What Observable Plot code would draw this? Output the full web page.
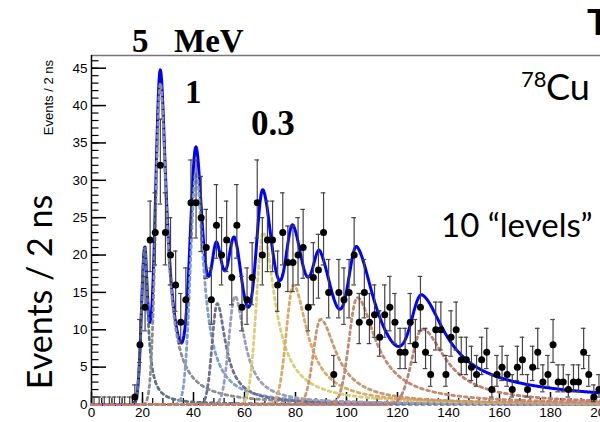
<!DOCTYPE html>
<html>
<head>
<meta charset="utf-8">
<script src="https://cdn.jsdelivr.net/npm/d3@7"></script>
<script src="https://cdn.jsdelivr.net/npm/@observablehq/plot@0.6"></script>
<style>
  html, body { margin: 0; padding: 0; background: #fff; overflow: hidden; width: 600px; height: 422px; }
  #chart { position: relative; width: 600px; height: 422px; overflow: hidden; }
  #chart svg { display: block; max-width: none !important; }
</style>
</head>
<body>
<div id="chart"></div>
<script>
// Time-of-flight spectrum: counts per 2 ns bin, bin centres in ns
const binCentres = d3.range(1, 200, 2);
const counts = [
  0, 0, 0, 0, 0, 0, 0, 0, 1, 8,
  13, 22, 23, 32, 23, 20, 16, 11, 14, 27,
  27, 25, 21, 14, 24, 20, 22, 17, 24, 13,
  14, 17, 27, 20, 22, 22, 16, 23, 19, 19,
  20, 21, 13, 17, 18, 23, 15, 4, 15, 14,
  15, 20, 11, 15, 11, 12, 9, 12, 13, 11,
  7, 7, 11, 8, 13, 7, 4, 10, 10, 4,
  9, 10, 6, 6, 5, 4, 6, 7, 2, 4,
  5, 4, 2, 5, 6, 2, 5, 7, 3, 4,
  8, 3, 3, 2, 3, 3, 7, 4, 1, 2
];

// Fit: ten resolved "levels" (peak time, peak height, rise width, tail width)
const levelTime  = [20.9, 27.0, 41.0, 49.3, 56.3, 67.3, 79.2, 89.8, 104.2, 129.7];
const levelAmp   = [21.0, 43.0, 31.0, 13.5, 14.5, 23.0, 16.0, 11.4, 14.3, 10.1];
const levelRise  = [1.3, 1.8, 2.2, 2.0, 2.4, 2.6, 2.8, 2.8, 3.2, 4.0];
const levelTail  = [1.2, 2.5, 3.0, 3.4, 3.8, 4.8, 5.6, 6.4, 7.4, 9.4];
const tailPower  = 0.75;
const levelColor = ["#5e7282", "#8a8f96", "#7f9fcf", "#6f6f8f", "#9c9cbc",
                    "#d9cf76", "#dba968", "#c9996e", "#c48a72", "#bd7f74"];

// Axis ticks
const xMajor = d3.range(0, 201, 20);
const xMinor = d3.range(0, 201, 4);
const yMajor = d3.range(0, 46, 5);
const yMinor = d3.range(0, 47, 1);
const yTop = 46.7;

// Asymmetric peak: Gaussian rise, slowly falling tail
function levelShape(i, t) {
  const d = t - levelTime[i];
  if (d < 0) return levelAmp[i] * Math.exp(-d * d / (2 * levelRise[i] ** 2));
  return levelAmp[i] * Math.pow(1 + (d / levelTail[i]) ** 2, -tailPower);
}

const bins = binCentres.map((t, i) => {
  const n = counts[i];
  const e = Math.sqrt(n + 0.25);
  return {t, n, lo: n > 0 ? n - e + 0.5 : 0, hi: n > 0 ? n + e + 0.5 : 1};
});

const tGrid = d3.range(0, 200.001, 0.25);
const components = levelTime.map((_, i) => tGrid.map(t => ({t, v: levelShape(i, t)})));
const total = tGrid.map(t => ({t, v: d3.sum(levelTime, (_, i) => levelShape(i, t))}));

const capHalf = 0.9;

const chart = Plot.plot({
  width: 620,
  height: 422,
  marginLeft: 91,
  marginRight: 19,
  marginTop: 55,
  marginBottom: 18,
  x: {domain: [0, 200]},
  y: {domain: [0, yTop]},
  style: {fontFamily: "'Liberation Sans', Arial, sans-serif", background: "#fff", overflow: "visible"},
  marks: [
    // frame and axes underneath the curves
    Plot.ruleY([yTop], {stroke: "#777", strokeWidth: 1.5}),
    Plot.ruleX([0], {stroke: "#000", strokeWidth: 1.5}),
    Plot.ruleY([0], {stroke: "#000", strokeWidth: 1.2}),
    Plot.axisY(yMinor, {anchor: "left", tickSize: -7.5, tickFormat: () => "", label: null, strokeWidth: 1.2}),
    Plot.axisY(yMajor, {anchor: "left", tickSize: -15, tickFormat: () => "", label: null, strokeWidth: 1.5}),
    Plot.axisY(yMajor, {anchor: "left", tickSize: 0, tickPadding: 4, label: null, fontSize: 13.5, fill: "#000"}),
    Plot.axisX(xMinor, {anchor: "bottom", tickSize: -6, tickFormat: () => "", label: null, strokeWidth: 1.2}),
    Plot.axisX(xMajor, {anchor: "bottom", tickSize: -12, tickFormat: () => "", label: null, strokeWidth: 1.5}),
    Plot.axisX(xMajor, {anchor: "bottom", tickSize: 0, tickPadding: 3, label: null, fontSize: 13.5, fill: "#000"}),
    // total fit and its ten components
    Plot.line(total, {x: "t", y: "v", stroke: "#0000ff", strokeWidth: 3}),
    ...components.map((c, i) => Plot.line(c, {
      x: "t", y: "v", stroke: levelColor[i], strokeWidth: 2.8, strokeDasharray: "2.8,3.6"
    })),
    // data with error bars
    Plot.ruleX(bins, {x: "t", y1: "lo", y2: "hi", stroke: "#444", strokeWidth: 1.2}),
    Plot.ruleY(bins, {y: "hi", x1: d => d.t - capHalf, x2: d => d.t + capHalf, stroke: "#444", strokeWidth: 1.2}),
    Plot.ruleY(bins.filter(d => d.n > 0), {y: "lo", x1: d => d.t - capHalf, x2: d => d.t + capHalf, stroke: "#444", strokeWidth: 1.2}),
    Plot.dot(bins.filter(d => d.n > 0), {x: "t", y: "n", r: 3.5, fill: "#000"})
  ]
});
chart.style.maxWidth = "none";
chart.setAttribute("width", 620);

document.getElementById("chart").appendChild(chart);

// Annotations
const svg = d3.select(chart);
const serif = "'Liberation Serif', 'Times New Roman', serif";
const sans = "Lato, 'Open Sans', sans-serif";
function label(x, y, text, font, size, weight = "normal", anchor = "start", transform = null) {
  const el = svg.append("text")
    .attr("x", x).attr("y", y)
    .attr("font-family", font).attr("font-size", size)
    .attr("font-weight", weight).attr("fill", "#000")
    .attr("text-anchor", anchor)
    .text(text);
  if (transform) el.attr("transform", transform);
  return el;
}
label(132, 51.5, "5", serif, 33, "bold");
label(174, 51.5, "MeV", serif, 33, "bold");
label(185, 103, "1", serif, 33, "bold");
label(251, 135, "0.3", serif, 35, "bold");
label(521, 87, "78", sans, 22);
label(546, 99.5, "Cu", sans, 36);
label(441, 237, "10 \u201clevels\u201d", sans, 33);
label(587, 35, "T", sans, 37, "bold");
label(0, 0, "Events / 2 ns", "'Liberation Sans', Arial, sans-serif", 13, "normal", "end",
      "translate(53,60) rotate(-90)");
label(0, 0, "Events / 2 ns", sans, 34, "normal", "middle",
      "translate(52,292) rotate(-90)");
</script>
</body>
</html>
